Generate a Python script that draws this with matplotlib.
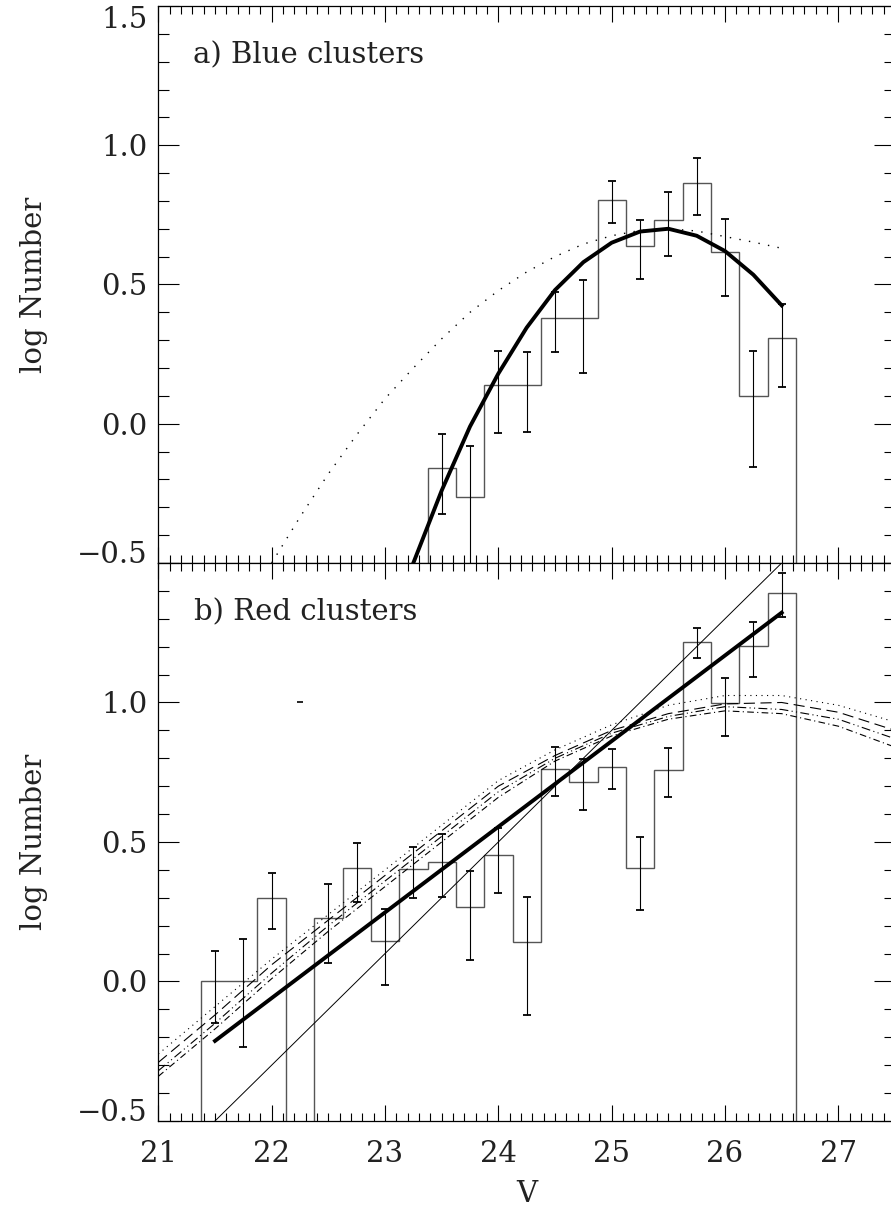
import numpy as np
import matplotlib
matplotlib.use("Agg")
import matplotlib.pyplot as plt
from matplotlib.ticker import MultipleLocator, FixedLocator

plt.rcParams['font.family'] = ['DejaVu Serif']
plt.rcParams['axes.unicode_minus'] = True

# ---------------- data ----------------
bin_width = 0.25

# a) blue clusters: histogram (log N) with error bar ends
blue_v = [23.5, 23.75, 24.0, 24.25, 24.5, 24.75, 25.0, 25.25, 25.5, 25.75, 26.0, 26.25, 26.5]
blue_logn = [-0.160, -0.263, 0.139, 0.139, 0.379, 0.381, 0.803, 0.638, 0.732, 0.863, 0.618, 0.100, 0.307]
blue_hi = [-0.038, -0.081, 0.261, 0.259, 0.472, 0.516, 0.873, 0.732, 0.831, 0.953, 0.735, 0.260, 0.430]
blue_lo = [-0.325, -0.620, -0.032, -0.030, 0.258, 0.182, 0.722, 0.520, 0.602, 0.750, 0.459, -0.155, 0.131]

# thick fitted curve
blue_fit_v = [23.25, 23.5, 23.75, 24.0, 24.25, 24.5, 24.75, 25.0, 25.25, 25.5, 25.75, 26.0, 26.25, 26.5]
blue_fit = [-0.50, -0.24, -0.01, 0.18, 0.345, 0.48, 0.58, 0.65, 0.69, 0.70, 0.675, 0.62, 0.535, 0.425]

# dotted comparison curve
blue_dot_v = [22.0, 22.25, 22.5, 22.75, 23.0, 23.25, 23.5, 23.75, 24.0, 24.25, 24.5, 24.75,
              25.0, 25.25, 25.5, 25.75, 26.0, 26.25, 26.5]
blue_dot = [-0.50, -0.335, -0.18, -0.04, 0.09, 0.20, 0.305, 0.40, 0.478, 0.545, 0.60, 0.645,
            0.675, 0.694, 0.70, 0.692, 0.672, 0.652, 0.630]

# b) red clusters: histogram (22.25 bin is empty)
red_v = [21.5, 21.75, 22.0, 22.25, 22.5, 22.75, 23.0, 23.25, 23.5, 23.75, 24.0, 24.25,
         24.5, 24.75, 25.0, 25.25, 25.5, 25.75, 26.0, 26.25, 26.5]
red_logn = [0.0, 0.0, 0.300, np.nan, 0.229, 0.406, 0.146, 0.403, 0.429, 0.266, 0.453, 0.143,
            0.762, 0.716, 0.768, 0.406, 0.758, 1.218, 0.997, 1.203, 1.394]
red_hi = [0.109, 0.151, 0.390, np.nan, 0.348, 0.497, 0.260, 0.482, 0.530, 0.397, 0.550, 0.304,
          0.839, 0.797, 0.833, 0.518, 0.838, 1.268, 1.089, 1.290, 1.465]
red_lo = [-0.148, -0.235, 0.187, np.nan, 0.067, 0.286, -0.013, 0.298, 0.304, 0.077, 0.318, -0.120,
          0.666, 0.615, 0.691, 0.256, 0.660, 1.158, 0.881, 1.092, 1.308]

# straight-line fits
red_fit_v = [21.5, 26.5]
red_fit = [-0.213, 1.322]
red_thin_v = [21.5, 26.5]
red_thin = [-0.5, 1.5]

# four model curves
red_mod_v = [21.0, 21.5, 22.0, 22.5, 23.0, 23.5, 24.0, 24.5, 25.0, 25.5, 26.0, 26.5, 27.0, 27.5]
red_mod_a = [-0.26, -0.09, 0.08, 0.24, 0.40, 0.56, 0.72, 0.83, 0.92, 0.99, 1.025, 1.025, 0.99, 0.93]
red_mod_b = [-0.29, -0.12, 0.06, 0.22, 0.38, 0.54, 0.70, 0.81, 0.90, 0.96, 0.995, 1.00, 0.965, 0.90]
red_mod_c = [-0.32, -0.15, 0.03, 0.20, 0.36, 0.52, 0.68, 0.80, 0.89, 0.95, 0.985, 0.975, 0.94, 0.87]
red_mod_d = [-0.34, -0.17, 0.01, 0.18, 0.34, 0.50, 0.66, 0.79, 0.88, 0.94, 0.97, 0.96, 0.915, 0.84]

# stray tick mark in panel b
stray_v, stray_y = [22.25], [1.0]

yticks = [-0.5, 0.0, 0.5, 1.0, 1.5]
ylabels_top = ['\u22120.5', '0.0', '0.5', '1.0', '1.5']
ylabels_bot = ['\u22120.5', '0.0', '0.5', '1.0', '']
xticks = [21, 22, 23, 24, 25, 26, 27]

# ---------------- drawing ----------------
fig = plt.figure(figsize=(8.91, 12.17), dpi=100)
ax1 = fig.add_axes([0.1777, 0.5374, 0.8268, 0.4577])
ax2 = fig.add_axes([0.1777, 0.0789, 0.8268, 0.4585])

hist_col = '#555555'
fs = 21


def hist_edges(centers):
    c = np.asarray(centers)
    return np.append(c - bin_width / 2, c[-1] + bin_width / 2)


def draw_hist(ax, v, logn, hi, lo):
    logn = np.asarray(logn, float)
    vals = np.where(np.isnan(logn), -1.0, logn)
    ax.stairs(vals, hist_edges(v), baseline=-1.0, color=hist_col, lw=1.0)
    hi = np.asarray(hi, float)
    lo = np.asarray(lo, float)
    ax.errorbar(v, logn, yerr=[logn - lo, hi - logn], fmt='none', ecolor='k',
                elinewidth=0.8, capsize=3, capthick=1.3)


draw_hist(ax1, blue_v, blue_logn, blue_hi, blue_lo)
ax1.plot(blue_fit_v, blue_fit, color='k', lw=2.8)
ax1.plot(blue_dot_v, blue_dot, color='k', lw=1.0, ls=(0, (1, 6)))

draw_hist(ax2, red_v, red_logn, red_hi, red_lo)
ax2.plot(red_fit_v, red_fit, color='k', lw=2.8)
ax2.plot(red_thin_v, red_thin, color='k', lw=0.7)
ax2.plot(red_mod_v, red_mod_a, color='k', lw=0.8, ls=(0, (1, 4)))
ax2.plot(red_mod_v, red_mod_b, color='k', lw=0.8, ls=(0, (10, 5)))
ax2.plot(red_mod_v, red_mod_c, color='k', lw=0.8, ls=(0, (8, 3, 1, 3, 1, 3)))
ax2.plot(red_mod_v, red_mod_d, color='k', lw=0.8, ls=(0, (6, 3, 1, 3)))
ax2.plot(stray_v, stray_y, marker='_', ms=5, mew=1.2, color='k', ls='none')

for ax, labs in ((ax1, ylabels_top), (ax2, ylabels_bot)):
    ax.set_xlim(21, 27.5)
    ax.set_ylim(-0.5, 1.5)
    ax.xaxis.set_major_locator(FixedLocator(xticks))
    ax.xaxis.set_minor_locator(MultipleLocator(0.1))
    ax.yaxis.set_major_locator(FixedLocator(yticks))
    ax.yaxis.set_minor_locator(MultipleLocator(0.1))
    ax.set_yticklabels(labs)
    ax.tick_params(which='both', direction='in', top=True, right=True,
                   width=0.8, colors='k', labelcolor='#222222', labelsize=fs)
    ax.tick_params(axis='x', which='major', length=11.5, pad=14)
    ax.tick_params(axis='x', which='minor', length=5.8)
    ax.tick_params(axis='y', which='major', length=15, pad=8)
    ax.tick_params(axis='y', which='minor', length=8)
    for s in ax.spines.values():
        s.set_linewidth(0.9)
    ticks = ax.yaxis.get_major_ticks()
    ticks[0].label1.set_va('baseline')
    ticks[-1].label1.set_va('top')
    ax.set_ylabel('log Number', fontsize=fs, color='#222222')
    ax.yaxis.set_label_coords(-0.1497, 0.5)

ax1.tick_params(axis='x', labelbottom=False)
ax2.set_xticklabels([str(t) for t in xticks])
ax2.set_xlabel('V', fontsize=fs, color='#222222')
ax2.xaxis.set_label_coords(0.5, -0.105)

ax1.text(0.047, 0.8977, 'a) Blue clusters', transform=ax1.transAxes,
         fontsize=fs, color='#222222', va='baseline', ha='left')
ax2.text(0.0485, 0.8966, 'b) Red clusters', transform=ax2.transAxes,
         fontsize=fs, color='#222222', va='baseline', ha='left')

fig.savefig('out.png', dpi=100)
